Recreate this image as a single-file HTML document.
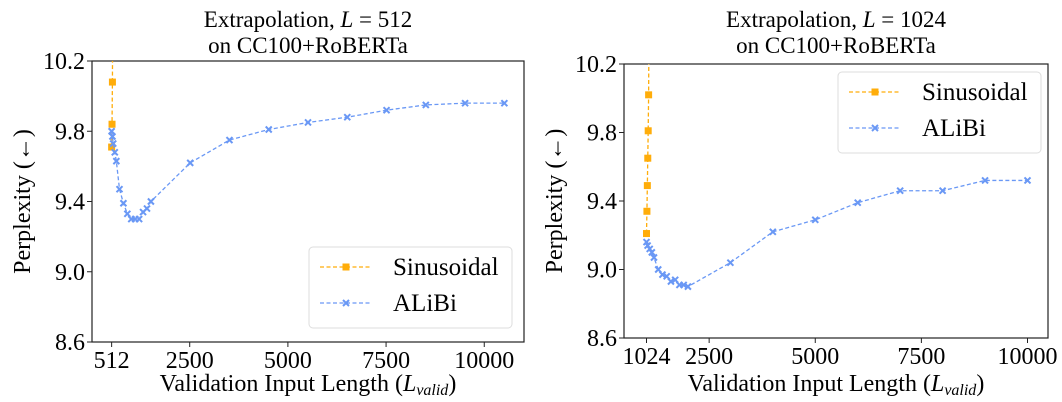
<!DOCTYPE html>
<html><head><meta charset="utf-8">
<style>
body{margin:0;background:#fff;}
svg{display:block;}
text{font-family:"Liberation Serif","DejaVu Serif",serif;}
</style></head>
<body>
<svg id="chart" width="1062" height="402" viewBox="0 0 1062 402" xmlns="http://www.w3.org/2000/svg"></svg>
<script>
// Left panel data (L = 512)
const leftSinX = [512, 522, 532, 542];
const leftSinY = [9.71, 9.84, 10.08, 10.6];
const leftAliX = [512, 532, 552, 592, 632, 712, 812, 912, 1012, 1112, 1212, 1312, 1412, 1512, 2512, 3512, 4512, 5512, 6512, 7512, 8512, 9512, 10512];
const leftAliY = [9.80, 9.77, 9.73, 9.68, 9.63, 9.47, 9.39, 9.33, 9.30, 9.30, 9.30, 9.34, 9.36, 9.40, 9.62, 9.75, 9.81, 9.85, 9.88, 9.92, 9.95, 9.96, 9.96];
const leftXTicks = [512, 2500, 5000, 7500, 10000];
// Right panel data (L = 1024)
const rightSinX = [1024, 1034, 1044, 1054, 1064, 1074, 1084];
const rightSinY = [9.21, 9.34, 9.49, 9.65, 9.81, 10.02, 10.5];
const rightAliX = [1024, 1050, 1100, 1150, 1200, 1300, 1400, 1500, 1600, 1700, 1800, 1900, 2000, 3000, 4000, 5000, 6000, 7000, 8000, 9000, 10000];
const rightAliY = [9.16, 9.14, 9.12, 9.10, 9.07, 9.00, 8.97, 8.96, 8.93, 8.94, 8.91, 8.91, 8.90, 9.04, 9.22, 9.29, 9.39, 9.46, 9.46, 9.52, 9.52];
const rightXTicks = [1024, 2500, 5000, 7500, 10000];
const yTicks = [8.6, 9.0, 9.4, 9.8, 10.2];
const yTickLabels = ["8.6", "9.0", "9.4", "9.8", "10.2"];

const NS = "http://www.w3.org/2000/svg";
const FF = "Liberation Serif, DejaVu Serif, serif";
const svg = document.getElementById('chart');
function mk(tag, attrs, parent, text){
  const e = document.createElementNS(NS, tag);
  for (const k in attrs) e.setAttribute(k, attrs[k]);
  if (tag === 'text') e.setAttribute('font-family', FF);
  if (text !== undefined) e.textContent = text;
  (parent || svg).appendChild(e);
  return e;
}
const SIN = "#ffad0a", ALI = "#6a98f5";

function panel(id, box, xlim, sinX, sinY, aliX, aliY, xticks, Lval, legendPos){
  const g = mk('g', {});
  
  
  const sx = v => box.l + (v - xlim[0]) / (xlim[1] - xlim[0]) * (box.r - box.l);
  const sy = v => box.b - (v - 8.6) / 1.6 * (box.b - box.t);
  const cx = (box.l + box.r) / 2;
  const t1 = mk('text', {x: cx, y: 27, 'text-anchor': 'middle', 'font-size': 23}, g);
  
  
  t1.innerHTML = 'Extrapolation, <tspan font-style="italic">L</tspan> = ' + Lval;
  const t2 = mk('text', {x: cx, y: 53, 'text-anchor': 'middle', 'font-size': 23}, g, 'on CC100+RoBERTa');
  
  
  const cp = mk('clipPath', {id: id + 'clip'}, g);
  mk('rect', {x: box.l, y: box.t, width: box.r - box.l, height: box.b - box.t}, cp);
  const fr = mk('rect', {x: box.l, y: box.t, width: box.r - box.l, height: box.b - box.t, fill: 'none', stroke: '#222', 'stroke-width': 1.2}, g);
  
  
  yTicks.forEach((v, i) => {
    const y = sy(v);
    mk('line', {x1: box.l - 5, x2: box.l, y1: y, y2: y, stroke: '#222', 'stroke-width': 1}, g);
    const tl = mk('text', {x: box.l - 7, y: y + 8, 'text-anchor': 'end', 'font-size': 24}, g, yTickLabels[i]);
    
    
  });
  xticks.forEach(v => {
    const x = sx(v);
    mk('line', {x1: x, x2: x, y1: box.b, y2: box.b + 5, stroke: '#222', 'stroke-width': 1}, g);
    const tl = mk('text', {x: x, y: box.b + 26, 'text-anchor': 'middle', 'font-size': 24}, g, String(v));
    
    
  });
  const xl = mk('text', {x: cx, y: 391, 'text-anchor': 'middle', 'font-size': 24}, g);
  
  
  xl.innerHTML = 'Validation Input Length (<tspan font-style="italic">L</tspan><tspan font-style="italic" font-size="16" dy="4">valid</tspan><tspan dy="-4">)</tspan>';
  const yc = (box.t + box.b) / 2;
  const yl = mk('text', {x: 0, y: 0, 'text-anchor': 'middle', 'font-size': 24, transform: 'translate(' + (box.l - 62) + ',' + yc + ') rotate(-90)'}, g, 'Perplexity (\u2190)');
  
  
  const dg = mk('g', {'clip-path': 'url(#' + id + 'clip)'}, g);
  function series(xs, ys, color, marker, name){
    const sg = mk('g', {}, dg);
    
    
    const pts = xs.map((x, i) => sx(x).toFixed(2) + ',' + sy(ys[i]).toFixed(2)).join(' ');
    mk('polyline', {points: pts, fill: 'none', stroke: color, 'stroke-width': 1.3, 'stroke-dasharray': '4,2.5'}, sg);
    xs.forEach((x, i) => {
      const px = sx(x), py = sy(ys[i]);
      let m;
      if (marker === 'sq') {
        m = mk('rect', {x: px - 3.5, y: py - 3.5, width: 7, height: 7, fill: color}, sg);
      } else {
        m = mk('path', {d: `M${px-3},${py-3}L${px+3},${py+3}M${px-3},${py+3}L${px+3},${py-3}`, stroke: color, 'stroke-width': 2}, sg);
      }
      
      
    });
  }
  series(sinX, sinY, SIN, 'sq', 'sinusoidal');
  series(aliX, aliY, ALI, 'x', 'alibi');
  const lg = mk('g', {}, g);
  
  
  const L = legendPos;
  mk('rect', {x: L.x, y: L.y, width: 203, height: 81, rx: 4, fill: '#fff', stroke: '#ddd', 'stroke-width': 1}, lg);
  [['Sinusoidal', SIN, 'sq'], ['ALiBi', ALI, 'x']].forEach((e, i) => {
    const yy = L.y + 20 + i * 36;
    const eg = mk('g', {}, lg);
    
    
    mk('line', {x1: L.x + 11, x2: L.x + 63, y1: yy, y2: yy, stroke: e[1], 'stroke-width': 1.3, 'stroke-dasharray': '4,2.5'}, eg);
    const mx = L.x + 37;
    if (e[2] === 'sq') mk('rect', {x: mx - 3.5, y: yy - 3.5, width: 7, height: 7, fill: e[1]}, eg);
    else mk('path', {d: `M${mx-3},${yy-3}L${mx+3},${yy+3}M${mx-3},${yy+3}L${mx+3},${yy-3}`, stroke: e[1], 'stroke-width': 2}, eg);
    mk('text', {x: L.x + 84, y: yy + 8, 'font-size': 25}, eg, e[0]);
  });
}
panel('left', {l: 92, r: 524, t: 61, b: 342}, [12, 11012], leftSinX, leftSinY, leftAliX, leftAliY, leftXTicks, '512', {x: 309, y: 247});
panel('right', {l: 624, r: 1048, t: 64, b: 338}, [494, 10483], rightSinX, rightSinY, rightAliX, rightAliY, rightXTicks, '1024', {x: 838, y: 72});
</script>
</body></html>
